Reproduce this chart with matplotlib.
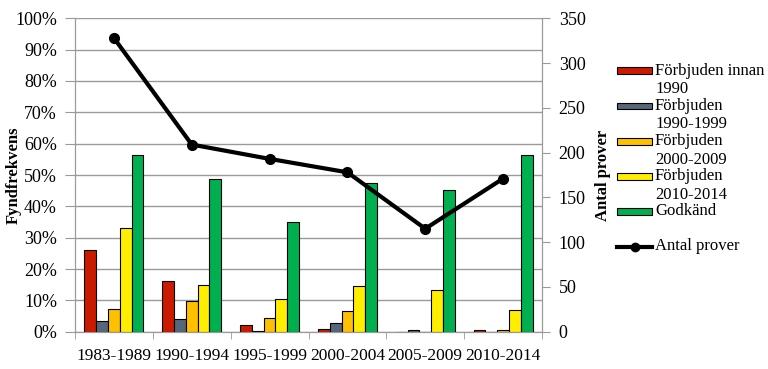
import matplotlib
matplotlib.use("Agg")
import matplotlib.pyplot as plt
from matplotlib.patches import Rectangle
from matplotlib.lines import Line2D
import numpy as np

plt.rcParams['font.family'] = ['Liberation Serif', 'DejaVu Serif']

categories = ["1983-1989", "1990-1994", "1995-1999", "2000-2004", "2005-2009", "2010-2014"]
series_names = ["Förbjuden innan\n1990", "Förbjuden\n1990-1999", "Förbjuden\n2000-2009",
                "Förbjuden\n2010-2014", "Godkänd"]
forbjuden_innan_1990 = [26.1, 16.1, 2.1, 1.0, 0.0, 0.7]
forbjuden_1990_1999 = [3.5, 3.9, 0.3, 2.8, 0.7, 0.0]
forbjuden_2000_2009 = [7.3, 9.7, 4.4, 6.7, 0.0, 0.7]
forbjuden_2010_2014 = [33.2, 14.8, 10.4, 14.7, 13.3, 7.0]
godkand = [56.4, 48.6, 34.9, 47.3, 45.2, 56.4]
antal_prover = [328, 209, 193, 178, 115, 171]

series = [forbjuden_innan_1990, forbjuden_1990_1999, forbjuden_2000_2009, forbjuden_2010_2014, godkand]
colors = ["#CC1A00", "#56677A", "#FFC000", "#FFEE00", "#00B050"]

W, H = 768, 369
fig = plt.figure(figsize=(W / 100, H / 100), dpi=100)
ax = fig.add_axes([75 / W, 1 - 331.7 / H, (542 - 75) / W, (331.7 - 18.3) / H])
ax2 = ax.twinx()

gray = "#9A9A9A"
x = np.arange(len(categories))
w = 0.152
for i, (vals, c) in enumerate(zip(series, colors)):
    ax.bar(x + (i - 2) * w, vals, width=w, color=c, edgecolor="black", linewidth=0.8, zorder=3)

ax.set_xlim(-0.5, len(categories) - 0.5)
ax.set_ylim(0, 100)
ax.set_yticks(np.arange(0, 101, 10))
ax.set_yticklabels([f"{v}%" for v in range(0, 101, 10)], fontsize=13)
ax.yaxis.grid(True, color=gray, linewidth=1.0, zorder=0)
ax.set_axisbelow(True)
ax.set_xticks(x)
ax.set_xticklabels(categories, fontsize=12.5)
ax.tick_params(axis="x", length=0, pad=12)
ax.set_xticks(np.arange(-0.5, len(categories)), minor=True)
ax.tick_params(axis="x", which="minor", length=5, color=gray, direction="out")
ax.tick_params(axis="y", length=7, color=gray, pad=6)
ax.set_ylabel("Fyndfrekvens", fontsize=12, fontweight="bold")
ax.yaxis.set_label_coords((22 - 75) / 467, 0.5)

for s in ["top"]:
    ax.spines[s].set_visible(False)
    ax2.spines[s].set_visible(False)
for s in ["left", "bottom", "right"]:
    ax.spines[s].set_color(gray)
    ax2.spines[s].set_color(gray)

ax2.plot(x, antal_prover, color="black", linewidth=3, marker="o", markersize=7, zorder=5)
ax2.set_ylim(0, 350)
ax2.set_yticks(np.arange(0, 351, 50))
ax2.tick_params(axis="y", labelsize=13, length=6, color=gray, pad=6)
ax2.set_ylabel("Antal prover", fontsize=12, fontweight="bold", rotation=90)
ax2.yaxis.set_label_coords((595 - 75) / 467, 0.5)
ax2.set_zorder(ax.get_zorder() + 1)
ax2.patch.set_visible(False)

# Legend (manual, handle aligned with the first text line like the original)
ys = [70.7, 105.9, 141.1, 176.3, 211.3]
line_gap = 18.6
for name, c, yy in zip(series_names, colors, ys):
    fig.add_artist(Rectangle((617 / W, 1 - (yy + 3.4) / H), 35 / W, 6.8 / H,
                             facecolor=c, edgecolor="black", linewidth=0.8,
                             transform=fig.transFigure))
    for k, part in enumerate(name.split("\n")):
        fig.text(655 / W, 1 - (yy + k * line_gap) / H, part, fontsize=12,
                 va="center", ha="left")
yl = 246.5
fig.add_artist(Line2D([617 / W, 652 / W], [1 - yl / H, 1 - yl / H], color="black",
                      linewidth=3, transform=fig.transFigure))
fig.add_artist(Line2D([634.5 / W], [1 - yl / H], color="black", marker="o", markersize=6,
                      transform=fig.transFigure))
fig.text(655 / W, 1 - yl / H, "Antal prover", fontsize=12, va="center", ha="left")

fig.savefig("out.png", dpi=100)
